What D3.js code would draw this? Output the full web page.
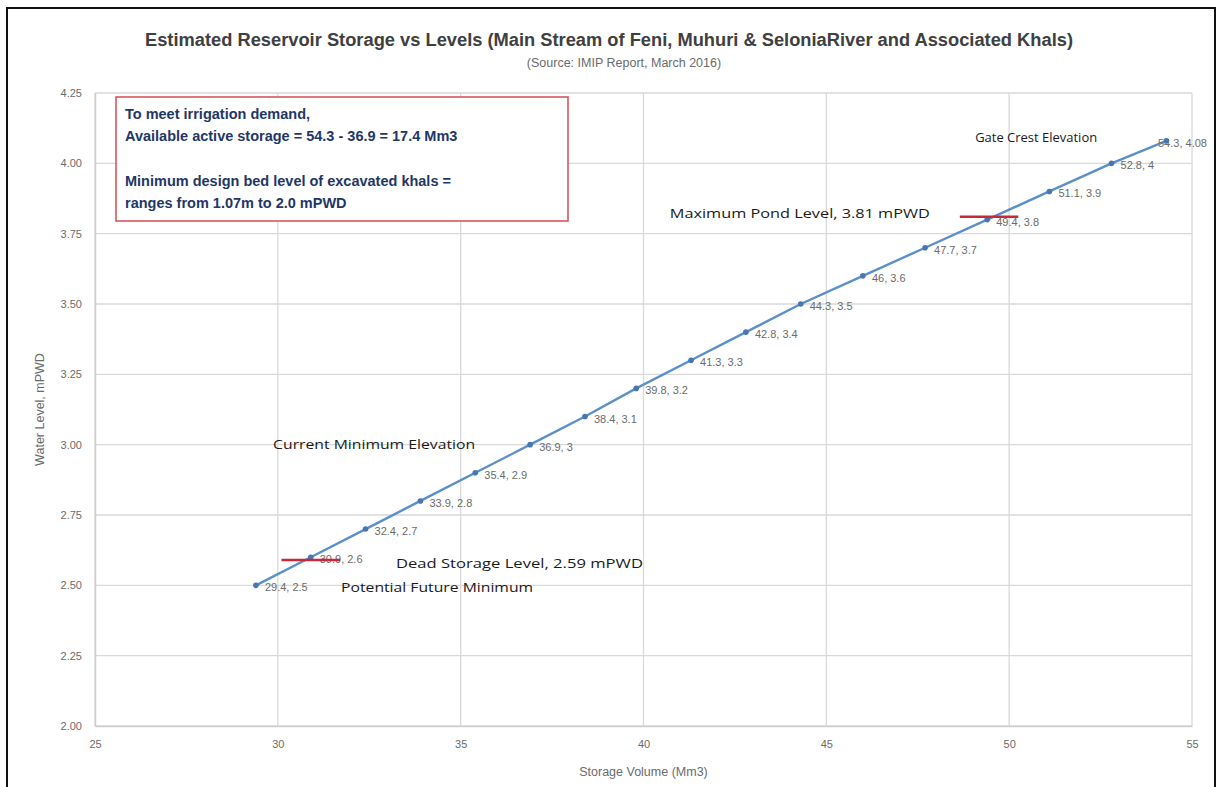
<!DOCTYPE html>
<html>
<head>
<meta charset="utf-8">
<script src="https://cdn.jsdelivr.net/npm/d3@7"></script>
<style>
  html, body { margin: 0; padding: 0; background: #fff; }
  svg { display: block; }
</style>
</head>
<body>
<svg id="chart" width="1218" height="787"></svg>
<script>
// Storage (Mm3) vs water level (mPWD)
const storage = [29.4, 30.9, 32.4, 33.9, 35.4, 36.9, 38.4, 39.8, 41.3, 42.8, 44.3, 46, 47.7, 49.4, 51.1, 52.8, 54.3];
const level   = [2.5, 2.6, 2.7, 2.8, 2.9, 3, 3.1, 3.2, 3.3, 3.4, 3.5, 3.6, 3.7, 3.8, 3.9, 4, 4.08];
const pointLabels = ["29.4, 2.5", "30.9, 2.6", "32.4, 2.7", "33.9, 2.8", "35.4, 2.9", "36.9, 3", "38.4, 3.1",
  "39.8, 3.2", "41.3, 3.3", "42.8, 3.4", "44.3, 3.5", "46, 3.6", "47.7, 3.7", "49.4, 3.8", "51.1, 3.9",
  "52.8, 4", "54.3, 4.08"];

const xTicks = [25, 30, 35, 40, 45, 50, 55];
const yTicks = [2.0, 2.25, 2.5, 2.75, 3.0, 3.25, 3.5, 3.75, 4.0, 4.25];

// Reference levels (red markers): level, storage start, storage end
const refLevels = [2.59, 3.81];
const refFrom   = [30.1, 48.65];
const refTo     = [31.7, 50.25];

// Callout texts and their anchor (storage, level)
const noteTexts = ["Gate Crest Elevation", "Maximum Pond Level, 3.81 mPWD", "Current Minimum Elevation",
  "Dead Storage Level, 2.59 mPWD", "Potential Future Minimum"];
const noteX = [49.07, 40.72, 29.87, 33.23, 31.73];
const noteY = [4.094, 3.824, 3.002, 2.579, 2.494];
const noteW = [122, 260, 202, 247, 192];

const boxLines = ["To meet irrigation demand,", "Available active storage = 54.3 - 36.9 = 17.4 Mm3", "",
  "Minimum design bed level of excavated khals =", "ranges from 1.07m to 2.0 mPWD"];

const titleText = "Estimated Reservoir Storage vs Levels (Main Stream of Feni, Muhuri & SeloniaRiver and Associated Khals)";
const subtitleText = "(Source: IMIP Report, March 2016)";

const svg = d3.select("#chart");
const plotL = 95, plotR = 1192, plotT = 93, plotB = 726;
const narrow = "'Liberation Sans Narrow', 'Arial Narrow', 'Liberation Sans', sans-serif";
const wide = "'Open Sans', 'DejaVu Sans', sans-serif";

const x = d3.scaleLinear().domain([25, 55]).range([plotL, plotR]);
const y = d3.scaleLinear().domain([2, 4.25]).range([plotB, plotT]);

// Outer frame
svg.append("rect").attr("x", 7).attr("y", 8).attr("width", 1208).attr("height", 800)
  .attr("fill", "none").attr("stroke", "#111").attr("stroke-width", 2);

// Gridlines
const grid = svg.append("g");
grid.selectAll("line.h").data(yTicks).join("line").attr("class", "h")
  .attr("x1", plotL).attr("x2", plotR).attr("y1", d => y(d)).attr("y2", d => y(d))
  .attr("stroke", "#d9d9d9").attr("stroke-width", 1.3);
grid.selectAll("line.v").data(xTicks).join("line").attr("class", "v")
  .attr("y1", plotT).attr("y2", plotB).attr("x1", d => x(d)).attr("x2", d => x(d))
  .attr("stroke", "#d9d9d9").attr("stroke-width", 1.3);

// Axes
const xAxis = svg.append("g").attr("transform", `translate(0,${plotB})`)
  .call(d3.axisBottom(x).tickValues(xTicks).tickSize(0).tickPadding(14).tickFormat(d3.format("d")));
const yAxis = svg.append("g").attr("transform", `translate(${plotL},0)`)
  .call(d3.axisLeft(y).tickValues(yTicks).tickSize(0).tickPadding(13).tickFormat(d3.format(".2f")));
[xAxis, yAxis].forEach(a => {
  a.select(".domain").attr("stroke", "#cfcfcf").attr("stroke-width", 1.5);
  a.selectAll("text").attr("fill", "#6b6b6b").attr("font-family", narrow).attr("font-size", 11);
});

// Axis titles
svg.append("text").attr("x", (plotL + plotR) / 2).attr("y", 776).attr("text-anchor", "middle")
  .attr("font-family", narrow).attr("font-size", 12.5).attr("fill", "#6b6b6b")
  .text("Storage Volume (Mm3)");
svg.append("text").attr("transform", `translate(44,${(plotT + plotB) / 2}) rotate(-90)`)
  .attr("text-anchor", "middle").attr("font-family", narrow).attr("font-size", 12.5).attr("fill", "#6b6b6b")
  .text("Water Level, mPWD");

// Titles
svg.append("text").attr("x", 609).attr("y", 46).attr("text-anchor", "middle")
  .attr("font-family", narrow).attr("font-weight", "bold").attr("font-size", 18).attr("fill", "#404040")
  .attr("textLength", 928).attr("lengthAdjust", "spacingAndGlyphs")
  .text(titleText);
svg.append("text").attr("x", 624).attr("y", 67).attr("text-anchor", "middle")
  .attr("font-family", narrow).attr("font-size", 12.5).attr("fill", "#6b6b6b")
  .text(subtitleText);

// Info box
const box = svg.append("g");
box.append("rect").attr("x", 116).attr("y", 97).attr("width", 452).attr("height", 124)
  .attr("fill", "#fff").attr("stroke", "#d9565a").attr("stroke-width", 1.6);
box.selectAll("text").data(boxLines).join("text")
  .attr("x", 125).attr("y", (d, i) => 119 + i * 22.3)
  .attr("font-family", narrow).attr("font-weight", "bold").attr("font-size", 14.5)
  .attr("fill", "#1f3766")
  .text(d => d);

// Series
const pts = storage.map((s, i) => ({ s, l: level[i], lab: pointLabels[i] }));
svg.append("path").datum(pts)
  .attr("d", d3.line().x(d => x(d.s)).y(d => y(d.l)))
  .attr("fill", "none").attr("stroke", "#5b8fc8").attr("stroke-width", 2.4);

// Data labels
svg.append("g").selectAll("text").data(pts).join("text")
  .attr("x", d => Math.min(x(d.s) + 9, 1158))
  .attr("y", d => y(d.l) + 6)
  .attr("font-family", narrow).attr("font-size", 11).attr("fill", "#6b6b6b")
  .text(d => d.lab);

svg.append("g").selectAll("circle").data(pts).join("circle")
  .attr("cx", d => x(d.s)).attr("cy", d => y(d.l)).attr("r", 2.8)
  .attr("fill", "#4677b0");

// Reference level markers
svg.append("g").selectAll("line").data(refLevels).join("line")
  .attr("x1", (d, i) => x(refFrom[i])).attr("x2", (d, i) => x(refTo[i]))
  .attr("y1", d => y(d)).attr("y2", d => y(d))
  .attr("stroke", "#c8283a").attr("stroke-width", 2.5);

// Callouts
svg.append("g").selectAll("text").data(noteTexts).join("text")
  .attr("x", (d, i) => x(noteX[i])).attr("y", (d, i) => y(noteY[i]) + 5)
  .attr("font-family", wide).attr("font-size", 13.5).attr("fill", "#1a1a1a")
  .attr("textLength", (d, i) => noteW[i]).attr("lengthAdjust", "spacingAndGlyphs")
  .text(d => d);
</script>
</body>
</html>
